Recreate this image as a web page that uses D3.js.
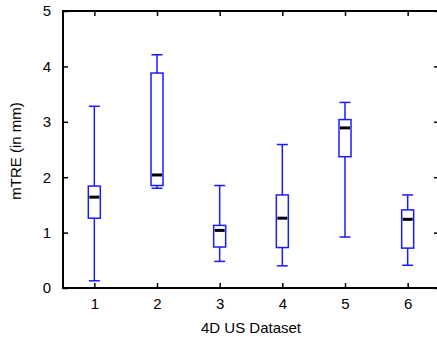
<!DOCTYPE html>
<html>
<head>
<meta charset="utf-8">
<script src="https://cdn.jsdelivr.net/npm/d3@7"></script>
<style>
  html, body { margin: 0; padding: 0; background: #fff; }
  svg { display: block; }
  text { font-family: "Liberation Sans", Arial, sans-serif; fill: #000; }
</style>
</head>
<body>
<svg id="chart" width="437" height="337"></svg>
<script>
// Per-dataset mTRE summary (mm)
const datasets = [1, 2, 3, 4, 5, 6];
const whiskerLow  = [0.13, 1.80, 0.48, 0.40, 0.92, 0.41];
const quartile1   = [1.26, 1.85, 0.74, 0.73, 2.37, 0.72];
const medians     = [1.64, 2.04, 1.04, 1.26, 2.89, 1.24];
const quartile3   = [1.84, 3.88, 1.13, 1.68, 3.04, 1.41];
const whiskerHigh = [3.28, 4.21, 1.85, 2.59, 3.35, 1.68];
const yTicks = [0, 1, 2, 3, 4, 5];

const svg = d3.select("#chart");
const plotL = 63, plotR = 439, plotT = 11, plotB = 288;

const x = d3.scaleLinear().domain([0.5, 6.5]).range([plotL, plotR]);
const y = d3.scaleLinear().domain([0, 5]).range([plotB, plotT]);

const boxes = datasets.map((d, i) => ({
  d, lo: whiskerLow[i], q1: quartile1[i], med: medians[i], q3: quartile3[i], hi: whiskerHigh[i]
}));

// Axes with inward ticks on all four sides
const tickLen = 5;
svg.append("g").attr("transform", `translate(0,${plotB})`)
  .call(d3.axisBottom(x).tickValues(datasets).tickFormat(d3.format("d")).tickSizeInner(-tickLen).tickSizeOuter(0).tickPadding(10))
  .call(g => g.select(".domain").remove());
svg.append("g").attr("transform", `translate(0,${plotT})`)
  .call(d3.axisTop(x).tickValues(datasets).tickFormat("").tickSizeInner(-tickLen).tickSizeOuter(0))
  .call(g => g.select(".domain").remove());
svg.append("g").attr("transform", `translate(${plotL},0)`)
  .call(d3.axisLeft(y).tickValues(yTicks).tickFormat(d3.format("d")).tickSizeInner(-tickLen).tickSizeOuter(0).tickPadding(12))
  .call(g => g.select(".domain").remove());
svg.append("g").attr("transform", `translate(${plotR},0)`)
  .call(d3.axisRight(y).tickValues(yTicks).tickFormat("").tickSizeInner(-tickLen).tickSizeOuter(0))
  .call(g => g.select(".domain").remove());

svg.selectAll(".tick line").attr("stroke", "#000").attr("stroke-width", 1.5);
svg.selectAll(".tick text").style("font-size", "15px").attr("fill", "#000");

// Plot frame
svg.append("rect")
  .attr("x", plotL).attr("y", plotT)
  .attr("width", plotR - plotL).attr("height", plotB - plotT)
  .attr("fill", "none").attr("stroke", "#000").attr("stroke-width", 2);

// Box plots
const boxW = 12, capW = 11, blue = "#1a1aff";
const g = svg.append("g").selectAll("g").data(boxes).join("g");

g.append("line")
  .attr("x1", b => x(b.d)).attr("x2", b => x(b.d))
  .attr("y1", b => y(b.hi)).attr("y2", b => y(b.q3))
  .attr("stroke", blue).attr("stroke-width", 1.5);
g.append("line")
  .attr("x1", b => x(b.d)).attr("x2", b => x(b.d))
  .attr("y1", b => y(b.q1)).attr("y2", b => y(b.lo))
  .attr("stroke", blue).attr("stroke-width", 1.5);
g.append("line")
  .attr("x1", b => x(b.d) - capW / 2).attr("x2", b => x(b.d) + capW / 2)
  .attr("y1", b => y(b.hi)).attr("y2", b => y(b.hi))
  .attr("stroke", blue).attr("stroke-width", 1.5);
g.append("line")
  .attr("x1", b => x(b.d) - capW / 2).attr("x2", b => x(b.d) + capW / 2)
  .attr("y1", b => y(b.lo)).attr("y2", b => y(b.lo))
  .attr("stroke", blue).attr("stroke-width", 1.5);
g.append("rect")
  .attr("x", b => x(b.d) - boxW / 2).attr("width", boxW)
  .attr("y", b => y(b.q3)).attr("height", b => y(b.q1) - y(b.q3))
  .attr("fill", "#fff").attr("stroke", blue).attr("stroke-width", 1.5);
g.append("line")
  .attr("x1", b => x(b.d) - boxW / 2 + 1).attr("x2", b => x(b.d) + boxW / 2 - 1)
  .attr("y1", b => y(b.med)).attr("y2", b => y(b.med))
  .attr("stroke", "#000").attr("stroke-width", 3);

// Axis titles
svg.append("text")
  .attr("x", (plotL + plotR) / 2).attr("y", 333)
  .attr("text-anchor", "middle").style("font-size", "15px")
  .text("4D US Dataset");
svg.append("text")
  .attr("transform", `translate(21,151) rotate(-90)`)
  .attr("text-anchor", "middle").style("font-size", "15px")
  .text("mTRE (in mm)");
</script>
</body>
</html>
